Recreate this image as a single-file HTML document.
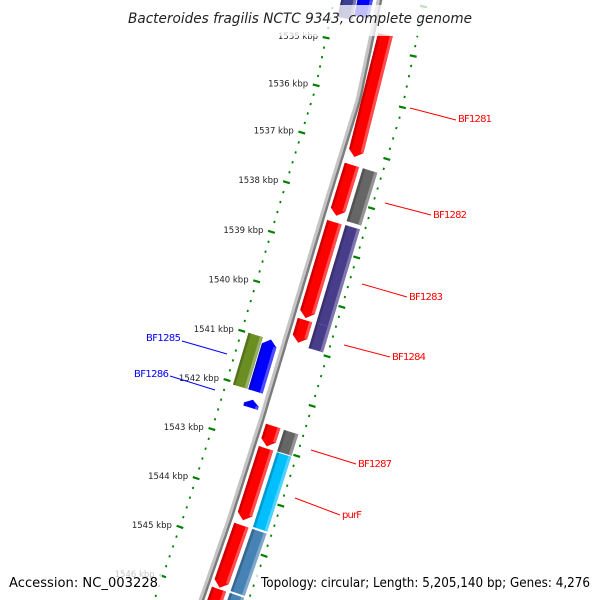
<!DOCTYPE html>
<html><head><meta charset="utf-8"><style>
html,body{margin:0;padding:0;background:#fff;width:600px;height:600px;overflow:hidden;}
svg{display:block;}
text{font-family:"DejaVu Sans","Liberation Sans",sans-serif;}
</style></head><body>
<svg id="map" width="600" height="600" viewBox="0 0 600 600" xmlns="http://www.w3.org/2000/svg" overflow="hidden">
<g id="backbone"></g>
<g id="ticks"></g>
<g id="genes"></g>
<g id="labels">
 <g><line x1="410" y1="108" x2="456" y2="120" stroke="#f00" stroke-width="1"/><text x="458" y="122" font-size="10" fill="#f00" textLength="34">BF1281</text></g>
 <g><line x1="385" y1="203" x2="431" y2="215" stroke="#f00" stroke-width="1"/><text x="433" y="218" font-size="10" fill="#f00" textLength="34">BF1282</text></g>
 <g><line x1="362" y1="284" x2="407" y2="297" stroke="#f00" stroke-width="1"/><text x="409" y="300" font-size="10" fill="#f00" textLength="34">BF1283</text></g>
 <g><line x1="344" y1="345" x2="390" y2="357" stroke="#f00" stroke-width="1"/><text x="392" y="360" font-size="10" fill="#f00" textLength="34">BF1284</text></g>
 <g><line x1="311" y1="450" x2="356" y2="464" stroke="#f00" stroke-width="1"/><text x="358" y="467" font-size="10" fill="#f00" textLength="34">BF1287</text></g>
 <g><line x1="295" y1="498" x2="340" y2="515" stroke="#f00" stroke-width="1"/><text x="342" y="518" font-size="10" fill="#f00" textLength="20">purF</text></g>
 <g><line x1="182" y1="341" x2="227" y2="354" stroke="#00f" stroke-width="1"/><text x="146" y="341" font-size="10" fill="#00f" textLength="35">BF1285</text></g>
 <g><line x1="170" y1="376" x2="215" y2="390" stroke="#00f" stroke-width="1"/><text x="134" y="377" font-size="10" fill="#00f" textLength="35">BF1286</text></g>
</g>
<rect x="122" y="5" width="356" height="31" fill="#fff" opacity="0.75"/>
<text x="300" y="23" text-anchor="middle" font-size="14" font-style="italic" fill="#222" textLength="344" lengthAdjust="spacingAndGlyphs">Bacteroides fragilis NCTC 9343, complete genome</text>
<rect x="4" y="569" width="158" height="24" fill="#fff" opacity="0.75"/>
<rect x="256" y="569" width="340" height="24" fill="#fff" opacity="0.75"/>
<text x="9" y="587" font-size="13" fill="#000" textLength="149" lengthAdjust="spacingAndGlyphs">Accession: NC_003228</text>
<text x="261" y="587" font-size="13" fill="#000" textLength="329" lengthAdjust="spacingAndGlyphs">Topology: circular; Length: 5,205,140 bp; Genes: 4,276</text>
</svg>
<script>
// ---- data ----
const geneStarts = [1534.0, 1534.0, 1534.70, 1537.31, 1538.47, 1540.45, 1537.31, 1538.46, 1540.44, 1541.00, 1541.00, 1542.22, 1542.59, 1542.60, 1543.04, 1543.05, 1544.59, 1544.59, 1545.88, 1545.88];
const geneEnds   = [1534.55, 1534.45, 1537.15, 1538.34, 1540.41, 1540.91, 1538.38, 1540.44, 1540.95, 1542.05, 1542.05, 1542.38, 1543.00, 1543.03, 1544.49, 1544.55, 1545.85, 1545.84, 1547.5, 1547.5];
const geneRings  = ["LO","LI","R","R","R","R","O","O","O","LO","LI","LI","R","O","R","O","R","O","R","O"];
const geneDirs   = [0,0,1,1,1,1,0,0,0,0,-1,-1,1,0,1,0,1,0,1,0];
const geneColors = ["#3d3d94","#0000ff","#ff0000","#ff0000","#ff0000","#ff0000","#666666","#483d8b","#483d8b","#6b8e23","#0000ff","#0000ff","#ff0000","#666666","#ff0000","#00bfff","#ff0000","#4682b4","#ff0000","#4682b4"];
const tickLabels = [1535,1536,1537,1538,1539,1540,1541,1542,1543,1544,1545,1546];

// ---- geometry ----
const ctrlY=[-100,0,100,200,320,420,520,600,700];
const ctrlX=[401,380,359,328,292,262,230,202,167];
function xB(y){
  for(let i=0;i<ctrlY.length-1;i++){
    if(y<=ctrlY[i+1]||i===ctrlY.length-2){
      const t=(y-ctrlY[i])/(ctrlY[i+1]-ctrlY[i]);
      return ctrlX[i]+t*(ctrlX[i+1]-ctrlX[i]);
    }
  }
}
function yOf(k){return 47+(k-1535)*49.45;}
function pt(k,r){
  const y=yOf(k), x=xB(y);
  const m=(xB(y+40)-xB(y-40))/80;
  const L=Math.hypot(m,1);
  return [x+r/L, y-r*m/L];
}
const ringR={R:[5,20],O:[24,39],LI:[-22,-7],LO:[-38,-23]};
const NS="http://www.w3.org/2000/svg";
function mk(tag,attrs,parent){const e=document.createElementNS(NS,tag);for(const a in attrs)e.setAttribute(a,attrs[a]);parent.appendChild(e);return e;}
function poly(list){return list.map(p=>p[0].toFixed(1)+","+p[1].toFixed(1)).join(" ");}
function shade(hex,f){
  let n=parseInt(hex.slice(1),16);let r=n>>16,g=(n>>8)&255,b=n&255;
  if(f>0){r+=(255-r)*f;g+=(255-g)*f;b+=(255-b)*f;}else{r*=1+f;g*=1+f;b*=1+f;}
  return "rgb("+Math.round(r)+","+Math.round(g)+","+Math.round(b)+")";
}

// backbone
const bb=document.getElementById('backbone');
function line(r){const a=[];for(let k=1533.5;k<=1547.2;k+=0.1)a.push(pt(k,r));return a;}
const bl=mk('polyline',{points:poly(line(-1.8)),fill:'none',stroke:'#c4c4c4','stroke-width':3},bb);


const bd=mk('polyline',{points:poly(line(1.0)),fill:'none',stroke:'#7c7c7c','stroke-width':2.5},bb);



// ticks
const tg=document.getElementById('ticks');
for(let i=0;i<=65;i++){
  const k=1534+i*0.2;
  const major=(i%5===0);
  [-45,44].forEach(rc=>{
    const hl=major?3.5:0.9;
    const p1=pt(k,rc-hl),p2=pt(k,rc+hl);
    const t=mk('line',{x1:p1[0],y1:p1[1],x2:p2[0],y2:p2[1],stroke:'#008000','stroke-width':2.2},tg);
    
    
  });
}
tickLabels.forEach(k=>{
  const p=pt(k,-45);
  const t=mk('text',{x:p[0]-8,y:p[1]+1,'text-anchor':'end','font-size':8.5,fill:'#222'},tg);
  t.textContent=k+" kbp";
  
  
});

// genes
const gg=document.getElementById('genes');
const H=0.12;
for(let i=0;i<geneStarts.length;i++){
  const a=geneStarts[i],b=geneEnds[i],dir=geneDirs[i],col=geneColors[i];
  const [r1,r2]=ringR[geneRings[i]];const rm=(r1+r2)/2;
  const h=Math.min(H,(b-a)*0.6);
  let pts,ba=a,bb2=b;
  if(dir===1){bb2=b-h;pts=[pt(a,r1),pt(a,r2),pt(bb2,r2),pt(b,rm),pt(bb2,r1)];}
  else if(dir===-1){ba=a+h;pts=[pt(a,rm),pt(ba,r2),pt(b,r2),pt(b,r1),pt(ba,r1)];}
  else pts=[pt(a,r1),pt(a,r2),pt(b,r2),pt(b,r1)];
  const g=mk('g',{},gg);
  
  
  mk('polygon',{points:poly(pts),fill:col},g);
  mk('polygon',{points:poly([pt(ba,r1),pt(ba,r1+2.5),pt(bb2,r1+2.5),pt(bb2,r1)]),fill:shade(col,-0.2)},g);
  mk('polygon',{points:poly([pt(ba,r2-3),pt(ba,r2),pt(bb2,r2),pt(bb2,r2-3)]),fill:shade(col,0.3)},g);
}
</script>
</body></html>
